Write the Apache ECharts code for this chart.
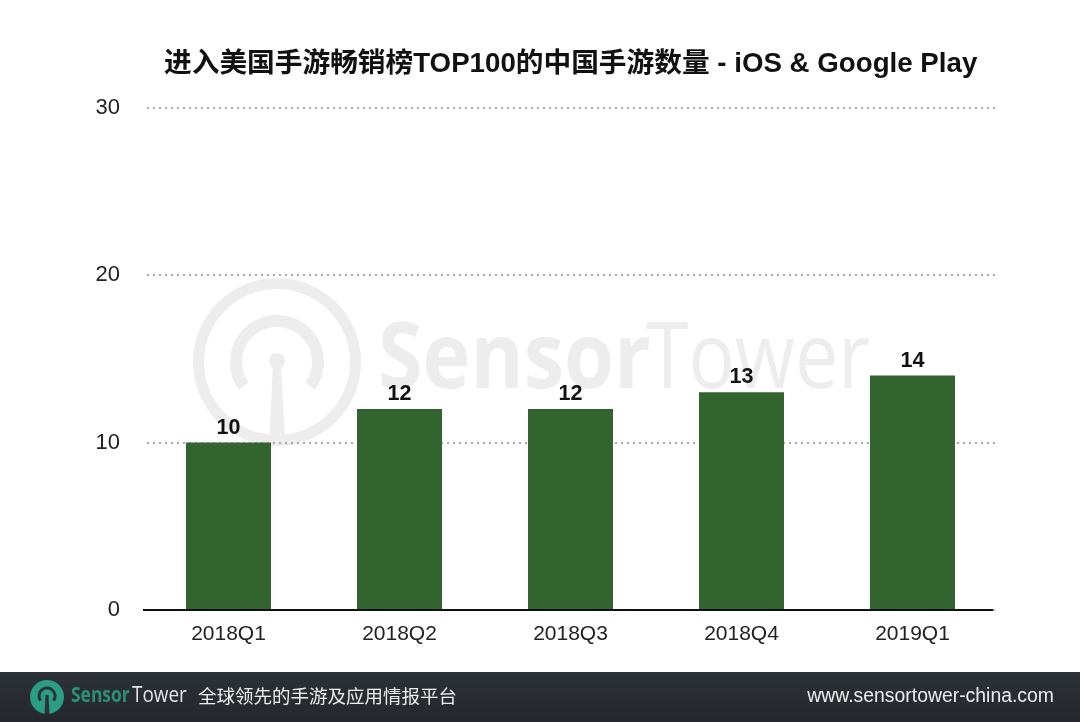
<!DOCTYPE html>
<html>
<head>
<meta charset="utf-8">
<style>html,body{margin:0;padding:0;background:#fff}#main{width:1080px;height:722px}</style>
<script src="https://cdn.jsdelivr.net/npm/echarts@6/dist/echarts.min.js"></script>
</head>
<body>
<div id="main"></div>
<script>
var titleText = '进入美国手游畅销榜TOP100的中国手游数量 - iOS & Google Play';
var quarters = ['2018Q1', '2018Q2', '2018Q3', '2018Q4', '2019Q1'];
var gameCounts = [10, 12, 12, 13, 14];
var slogan = '全球领先的手游及应用情报平台';
var siteUrl = 'www.sensortower-china.com';

var font = '"Liberation Sans","Noto Sans CJK SC",sans-serif';
var brandFont = '"Open Sans",sans-serif';
var markColor = '#ededed';
var chart = echarts.init(document.getElementById('main'));

var option = {
  backgroundColor: '#fff',
  animation: false,
  title: {
    text: titleText,
    left: 159,
    top: 46,
    textStyle: { fontFamily: font, fontWeight: 'bold', fontSize: 27.7, color: '#111' }
  },
  grid: [
    { left: 143, width: 855, top: 107.5, height: 502.5 },
    { left: 147, width: 848, top: 107.5, height: 502.5 }
  ],
  xAxis: [
    {
      type: 'category',
      gridIndex: 0,
      data: quarters,
      axisLine: { show: false },
      axisTick: { show: false },
      axisLabel: { fontFamily: font, fontSize: 21, color: '#222', margin: 14 }
    },
    { type: 'category', gridIndex: 1, show: false, data: quarters }
  ],
  yAxis: [
    { type: 'value', gridIndex: 0, show: false, min: 0, max: 30, interval: 10 },
    {
      type: 'value',
      gridIndex: 1,
      min: 0,
      max: 30,
      interval: 10,
      axisLine: { show: false },
      axisTick: { show: false },
      axisLabel: { fontFamily: font, fontSize: 22, color: '#222', margin: 27 },
      splitLine: { lineStyle: { type: [2, 4], color: '#8d8d8d', width: 1.5 } }
    }
  ],
  series: [{
    type: 'bar',
    xAxisIndex: 0,
    yAxisIndex: 0,
    data: gameCounts,
    barWidth: 85,
    itemStyle: { color: '#33632f' },
    z: 3,
    label: {
      show: true,
      position: 'top',
      distance: 4,
      fontFamily: font,
      fontWeight: 'bold',
      fontSize: 21.5,
      color: '#111'
    }
  }],
  graphic: [
    // watermark
    { type: 'ring', z: -1, shape: { cx: 277, cy: 362, r: 84, r0: 73 }, style: { fill: markColor } },
    { type: 'arc', z: -1, shape: { cx: 277, cy: 362, r: 41, startAngle: Math.PI * 0.8, endAngle: Math.PI * 0.2 },
      style: { stroke: markColor, lineWidth: 12, fill: null } },
    { type: 'circle', z: -1, shape: { cx: 277, cy: 361, r: 8 }, style: { fill: markColor } },
    { type: 'polygon', z: -1, shape: { points: [[273, 365], [281, 365], [285, 440], [269, 440]] }, style: { fill: markColor } },
    { type: 'text', z: -1, x: 378, y: 316, scaleX: 0.88, style: { text: 'Sensor', fontFamily: brandFont, fontWeight: 'bold', fontSize: 92, fill: markColor } },
    { type: 'text', z: -1, x: 646, y: 316, scaleX: 0.84, style: { text: 'Tower', fontFamily: brandFont, fontSize: 92, fill: markColor } },
    // baseline
    { type: 'line', z: 4, shape: { x1: 143, y1: 610, x2: 993, y2: 610 }, style: { stroke: '#111', lineWidth: 2 } },
    // footer
    { type: 'rect', z: 5, shape: { x: 0, y: 672, width: 1080, height: 50 },
      style: { fill: new echarts.graphic.LinearGradient(0, 0, 0, 1, [{ offset: 0, color: '#2d3238' }, { offset: 1, color: '#24272c' }]) } },
    { type: 'circle', z: 6, shape: { cx: 47, cy: 697, r: 17 }, style: { fill: '#2a9d85' } },
    { type: 'arc', z: 6, shape: { cx: 47, cy: 696, r: 8, startAngle: Math.PI * 0.8, endAngle: Math.PI * 0.2 },
      style: { stroke: '#2d3238', lineWidth: 3, fill: null } },
    { type: 'polygon', z: 6, shape: { points: [[45.5, 695], [48.5, 695], [49.5, 714], [44.5, 714]] }, style: { fill: '#2d3238' } },
    { type: 'text', z: 6, x: 71, y: 686, scaleX: 0.83, style: { text: 'Sensor', fontFamily: brandFont, fontSize: 21, fontWeight: 'bold', fill: '#2b8f78' } },
    { type: 'text', z: 6, x: 132, y: 686, scaleX: 0.9, style: { text: 'Tower', fontFamily: brandFont, fontSize: 21, fill: '#e2e4e5' } },
    { type: 'text', z: 6, left: 198, top: 687, style: { text: slogan, fontFamily: '"Noto Sans CJK SC",sans-serif', fontSize: 18.5, fill: '#eceded' } },
    { type: 'text', z: 6, right: 26, top: 687, style: { text: siteUrl, fontFamily: font, fontSize: 19.4, fill: '#eceded' } }
  ]
};
chart.setOption(option);
</script>
</body>
</html>
